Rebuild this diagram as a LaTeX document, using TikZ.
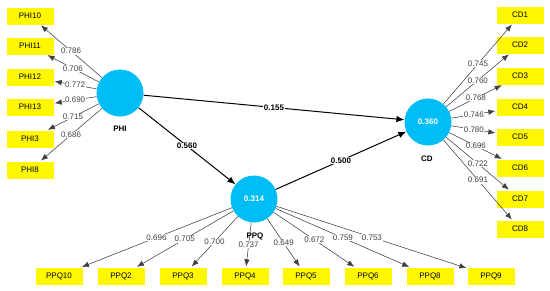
\documentclass[tikz,border=0pt]{standalone}
\usepackage{fontspec}
\setmainfont{Liberation Sans}
\usetikzlibrary{arrows.meta}
\definecolor{lvblue}{RGB}{0,190,245}
\definecolor{mvyellow}{RGB}{255,248,0}
\begin{document}
\begin{tikzpicture}[x=1pt,y=-1pt,
 lv/.style={circle,fill=lvblue,minimum size=47pt,inner sep=0pt,text=white,font=\fontsize{8}{9}\selectfont\bfseries},
 mv/.style={rectangle,fill=mvyellow,minimum width=47pt,minimum height=17pt,inner sep=0pt,font=\fontsize{8}{9}\selectfont},
 load/.style={draw=black!75,line width=0.55pt,-{Latex[length=7pt,width=5.5pt]},shorten >=1pt},
 pth/.style={draw=black,line width=1pt,-{Latex[length=8pt,width=6.5pt]}},
 lval/.style={fill=white,inner sep=0.6pt,text=black!75,font=\fontsize{8}{9}\selectfont},
 pval/.style={fill=white,inner sep=0.6pt,font=\fontsize{8}{9}\selectfont\bfseries},
 lvname/.style={font=\fontsize{8}{9}\selectfont\bfseries}]
\useasboundingbox (0,0) rectangle (550,290);
% latent variables
\node[lv] (phi) at (120,93) {};
\node[lv] (cd) at (428,122) {0.360};
\node[lv] (ppq) at (254,199) {0.314};
\node[lvname] (phin) at (120,129) {PHI};
\node[lvname] (cdn) at (427,159) {CD};
% PHI indicators
\node[mv] (phi10) at (30,16) {PHI10};
\node[mv] (phi11) at (30,46) {PHI11};
\node[mv] (phi12) at (30,77) {PHI12};
\node[mv] (phi13) at (30,107) {PHI13};
\node[mv] (phi3) at (30,139) {PHI3};
\node[mv] (phi8) at (30,170) {PHI8};
% CD indicators
\node[mv] (cd1) at (520,15) {CD1};
\node[mv] (cd2) at (520,45) {CD2};
\node[mv] (cd3) at (520,76) {CD3};
\node[mv] (cd4) at (520,107) {CD4};
\node[mv] (cd5) at (520,137) {CD5};
\node[mv] (cd6) at (520,168) {CD6};
\node[mv] (cd7) at (520,199) {CD7};
\node[mv] (cd8) at (520,229) {CD8};
% PPQ indicators
\node[mv] (ppq10) at (59,276) {PPQ10};
\node[mv] (ppq2) at (121,276) {PPQ2};
\node[mv] (ppq3) at (183,276) {PPQ3};
\node[mv] (ppq4) at (245,276) {PPQ4};
\node[mv] (ppq5) at (306,276) {PPQ5};
\node[mv] (ppq6) at (368,276) {PPQ6};
\node[mv] (ppq8) at (430,276) {PPQ8};
\node[mv] (ppq9) at (491,276) {PPQ9};
% loadings
\draw[load] (phi) -- node[lval]{0.786} (phi10);
\draw[load] (phi) -- node[lval]{0.706} (phi11);
\draw[load] (phi) -- node[lval]{0.772} (phi12);
\draw[load] (phi) -- node[lval]{0.690} (phi13);
\draw[load] (phi) -- node[lval]{0.715} (phi3);
\draw[load] (phi) -- node[lval]{0.686} (phi8);
\draw[load] (cd) -- node[lval]{0.745} (cd1);
\draw[load] (cd) -- node[lval]{0.760} (cd2);
\draw[load] (cd) -- node[lval]{0.768} (cd3);
\draw[load] (cd) -- node[lval]{0.746} (cd4);
\draw[load] (cd) -- node[lval]{0.780} (cd5);
\draw[load] (cd) -- node[lval]{0.696} (cd6);
\draw[load] (cd) -- node[lval]{0.722} (cd7);
\draw[load] (cd) -- node[lval]{0.691} (cd8);
\draw[load] (ppq) -- node[lval]{0.696} (ppq10);
\draw[load] (ppq) -- node[lval]{0.705} (ppq2);
\draw[load] (ppq) -- node[lval]{0.700} (ppq3);
\draw[load] (ppq) -- node[lval]{0.737} (ppq4);
\draw[load] (ppq) -- node[lval]{0.649} (ppq5);
\draw[load] (ppq) -- node[lval]{0.672} (ppq6);
\draw[load] (ppq) -- node[lval]{0.759} (ppq8);
\draw[load] (ppq) -- node[lval]{0.753} (ppq9);
\node[lvname] (ppqn) at (255,236) {PPQ};
% structural paths
\draw[pth] (phi) -- node[pval]{0.155} (cd);
\draw[pth] (phi) -- node[pval]{0.560} (ppq);
\draw[pth] (ppq) -- node[pval]{0.500} (cd);
\end{tikzpicture}
\end{document}
